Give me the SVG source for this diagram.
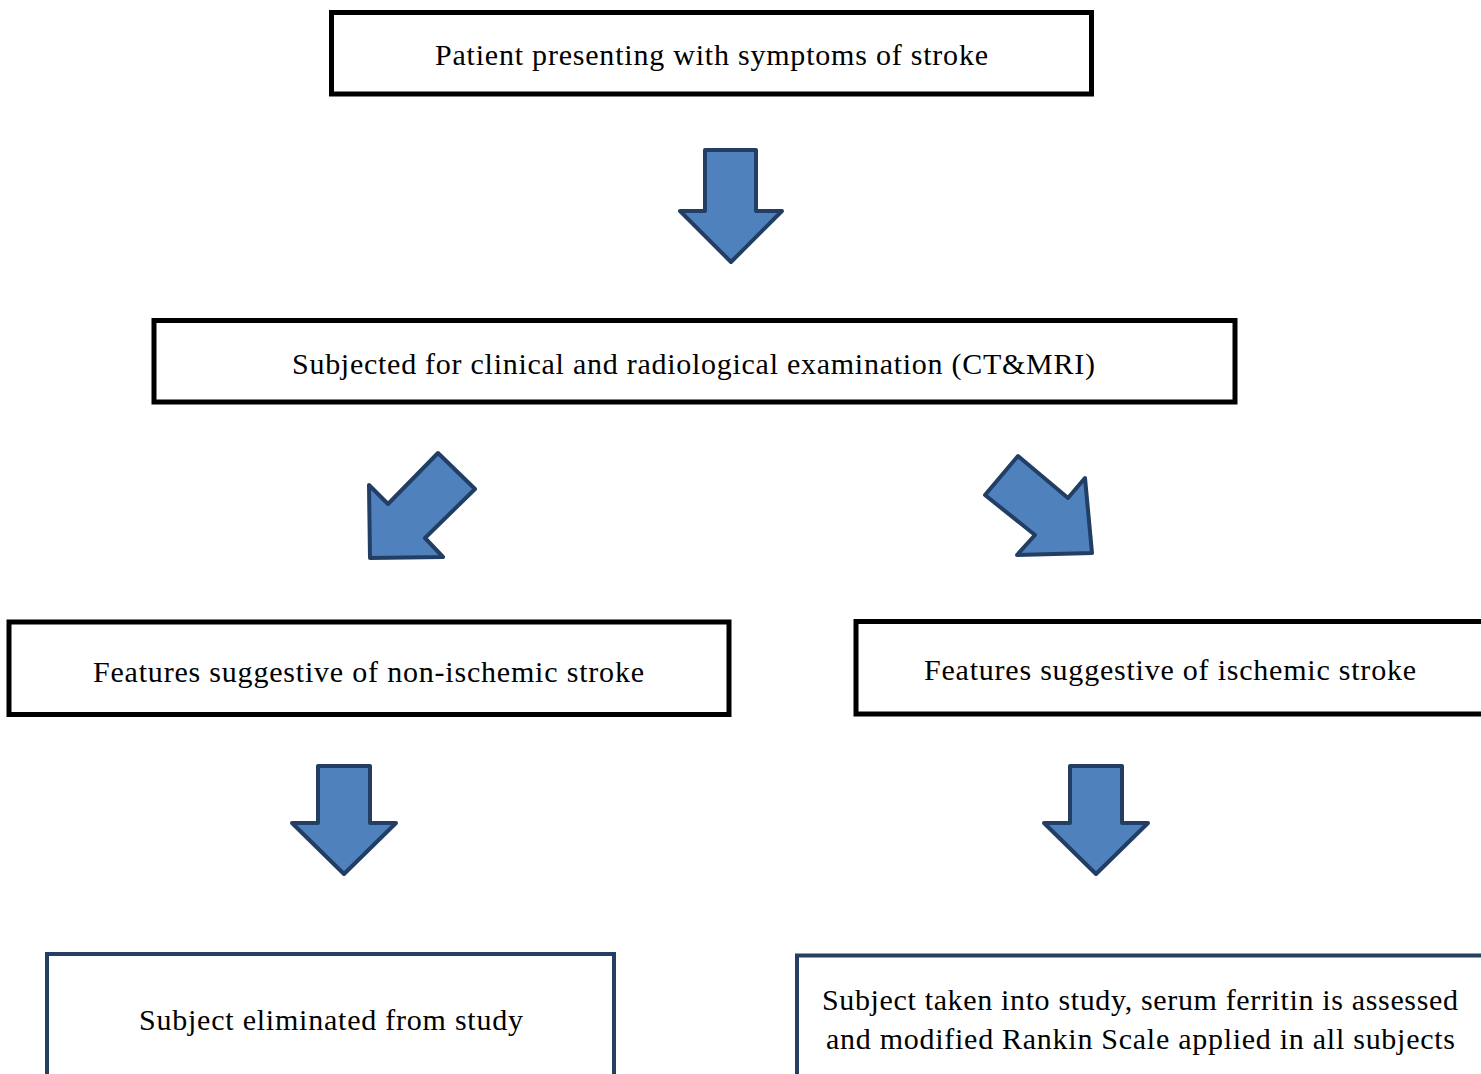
<svg xmlns="http://www.w3.org/2000/svg" width="1481" height="1074" viewBox="0 0 1481 1074">
<style>
.box{fill:#fff;stroke:#000;stroke-width:5}
.bbox{fill:#fff;stroke:#253f63;stroke-width:4}
.arr{fill:#4f81bd;stroke:#233e64;stroke-width:4;stroke-linejoin:round}
text{font-family:"Liberation Serif","Times New Roman",serif;font-size:30px;fill:#000}
</style>
<rect width="1481" height="1074" fill="#fff"/>
<g id="connectors">
<polygon class="arr" points="705,150 756,150 756,211 782,211 731,262 680,211 705,211"/>
<polygon class="arr" points="438,453 475,489 425,538 443,557 370,558 369,485 388,504"/>
<polygon class="arr" points="1018,456 1068,498 1085,478 1092,553 1017,555 1035,535 985,495"/>
<polygon class="arr" points="318,766 370,766 370,823 396,823 344,874 292,823 318,823"/>
<polygon class="arr" points="1070,766 1122,766 1122,823 1148,823 1096,874 1044,823 1070,823"/>
</g>
<g id="n1">
<rect class="box" x="331.5" y="12.5" width="760" height="81.5"/>
<text x="435" y="65" textLength="553" lengthAdjust="spacing">Patient presenting with symptoms of stroke</text>
</g>
<g id="n2">
<rect class="box" x="154" y="320.5" width="1081" height="81.5"/>
<text x="292" y="374" textLength="803" lengthAdjust="spacing">Subjected for clinical and radiological examination (CT&amp;MRI)</text>
</g>
<g id="n3">
<rect class="box" x="9" y="622" width="720" height="92.5"/>
<text x="93" y="682" textLength="551" lengthAdjust="spacing">Features suggestive of non-ischemic stroke</text>
</g>
<g id="n4">
<rect class="box" x="856" y="621.5" width="640" height="92.5"/>
<text x="924" y="680" textLength="492" lengthAdjust="spacing">Features suggestive of ischemic stroke</text>
</g>
<g id="n5">
<rect class="bbox" x="47" y="954" width="567" height="140"/>
<text x="139" y="1030" textLength="384" lengthAdjust="spacing">Subject eliminated from study</text>
</g>
<g id="n6">
<rect class="bbox" x="797" y="955.5" width="700" height="140"/>
<text x="822" y="1010" textLength="636" lengthAdjust="spacing">Subject taken into study, serum ferritin is assessed</text>
<text x="826" y="1049" textLength="629" lengthAdjust="spacing">and modified Rankin Scale applied in all subjects</text>
</g>
</svg>
